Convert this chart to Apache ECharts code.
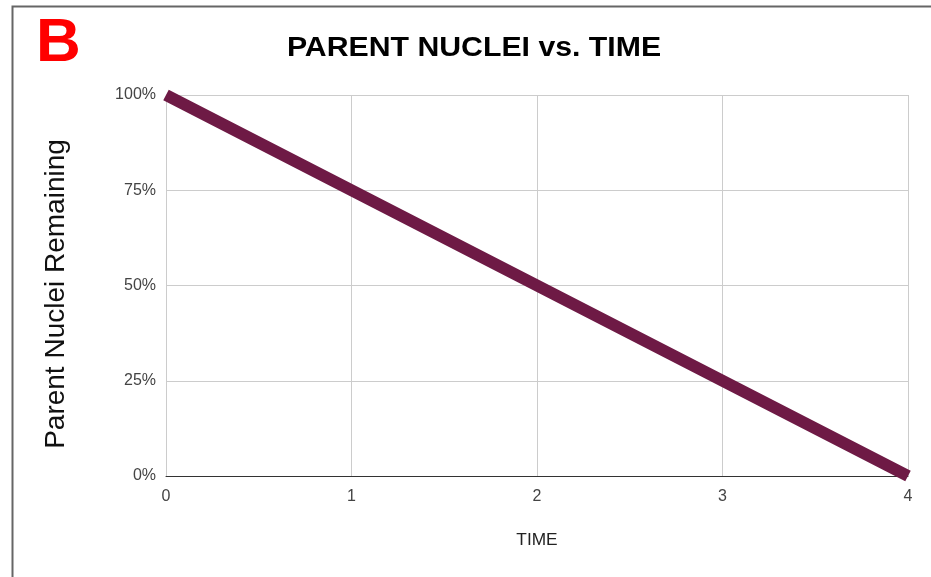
<!DOCTYPE html>
<html><head><meta charset="utf-8">
<script src="https://cdn.jsdelivr.net/npm/echarts@6/dist/echarts.min.js"></script>
<style>html,body{margin:0;padding:0;background:#fff}#c{width:931px;height:577px}</style>
</head><body><div id="c"></div>
<script>
const times = [0, 1, 2, 3, 4];
const remaining = [100, 75, 50, 25, 0];
const yTicks = [0, 25, 50, 75, 100];

const FF = '"Liberation Sans", Arial, sans-serif';
const chart = echarts.init(document.getElementById('c'));
chart.setOption({
  animation: false,
  backgroundColor: '#fff',
  graphic: [
    { type: 'rect', shape: { x: 12.5, y: 6.5, width: 940, height: 600 }, style: { fill: 'none', stroke: '#666', lineWidth: 2 } },
    { type: 'text', x: 36, y: 13, style: { text: 'B', fill: '#ff0000', font: 'bold 62px ' + FF } },
    { type: 'text', x: 474, y: 49, scaleX: 1.12, style: { text: 'PARENT NUCLEI vs. TIME', fill: '#000', font: 'bold 27px ' + FF, align: 'center', verticalAlign: 'middle' } },
    { type: 'text', x: 56, y: 294, rotation: Math.PI / 2, style: { text: 'Parent Nuclei Remaining', fill: '#111', font: '28px ' + FF, align: 'center', verticalAlign: 'middle' } },
    { type: 'text', x: 537, y: 541, scaleX: 1.08, style: { text: 'TIME', fill: '#222', font: '16px ' + FF, align: 'center', verticalAlign: 'middle' } }
  ],
  grid: { left: 166, right: 23, top: 95, bottom: 101, containLabel: false },
  xAxis: {
    type: 'value', min: 0, max: 4, interval: 1,
    axisLine: { show: true, lineStyle: { color: '#333', width: 1 } },
    axisTick: { show: false },
    axisLabel: { fontFamily: FF, fontSize: 16, color: '#444', margin: 13 },
    splitLine: { show: true, lineStyle: { color: '#ccc', width: 1 } }
  },
  yAxis: {
    type: 'value', min: 0, max: 100, interval: 25,
    axisLine: { show: false },
    axisTick: { show: false },
    axisLabel: { fontFamily: FF, fontSize: 16, color: '#444', margin: 10, padding: [8, 0, 0, 0],
      formatter: v => yTicks.includes(v) ? v + '%' : '' },
    splitLine: { show: true, lineStyle: { color: '#ccc', width: 1 } }
  },
  series: [{
    type: 'line', data: times.map((t, i) => [t, remaining[i]]),
    showSymbol: false, symbol: 'none', clip: true,
    lineStyle: { color: '#6e1a45', width: 12, cap: 'butt' }
  }]
});
</script></body></html>
